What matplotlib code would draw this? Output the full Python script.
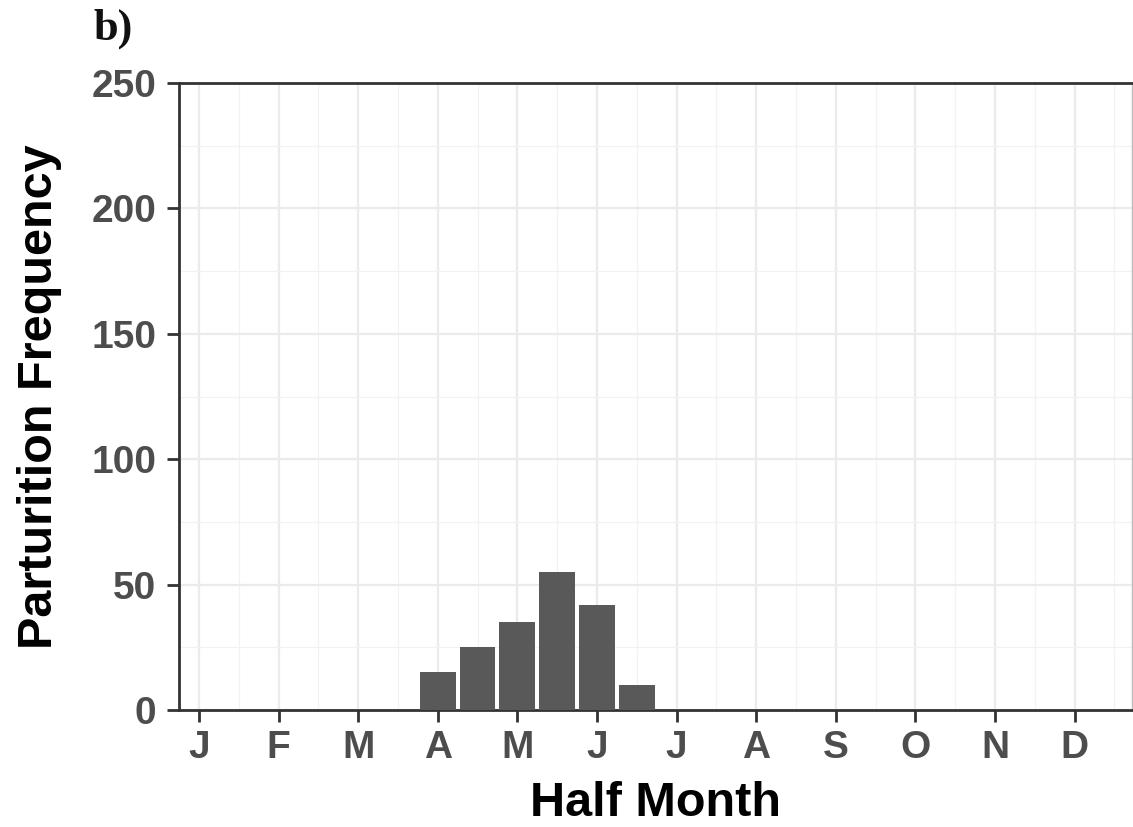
import numpy as np
import matplotlib
matplotlib.use("Agg")
import matplotlib.pyplot as plt

# Half-month bins (position in months, 1 = J)
bin_pos = [4.0, 4.5, 5.0, 5.5, 6.0, 6.5]
counts = [15, 25, 35, 55, 42, 10]
month_labels = ['J', 'F', 'M', 'A', 'M', 'J', 'J', 'A', 'S', 'O', 'N', 'D']

plt.rcParams['font.family'] = ['Liberation Sans', 'DejaVu Sans']

fig = plt.figure(figsize=(11.33, 8.27), dpi=100)
ax = fig.add_axes([179 / 1133, 1 - 710 / 827, (1132 - 179) / 1133, (710 - 83) / 827])

ax.bar(bin_pos, counts, width=0.45, color='#595959', zorder=3)

ax.set_xlim(0.75, 12.72)
ax.set_ylim(0, 250)
ax.set_xticks(np.arange(1, 13))
ax.set_xticklabels(month_labels)
ax.set_xticks(np.arange(1.5, 13, 1), minor=True)
ax.set_yticks([0, 50, 100, 150, 200, 250])
ax.set_yticks([25, 75, 125, 175, 225], minor=True)

ax.grid(which='major', color='#EBEBEB', linewidth=1.6, zorder=0)
ax.grid(which='minor', color='#F2F2F2', linewidth=0.9, zorder=0)
ax.set_axisbelow(True)

for side in ['left', 'bottom', 'top']:
    ax.spines[side].set_color('#333333')
    ax.spines[side].set_linewidth(2)
ax.spines['right'].set_color('#BBBBBB')
ax.spines['right'].set_linewidth(1)

ax.tick_params(which='major', length=8.5, width=2, color='#333333',
               labelsize=28, labelcolor='#4D4D4D')
ax.tick_params(axis='y', pad=8)
ax.tick_params(axis='x', pad=6)
ax.tick_params(which='minor', length=0)
for lab in ax.get_xticklabels() + ax.get_yticklabels():
    lab.set_fontweight('bold')

ax.set_xlabel('Half Month', fontsize=35, fontweight='bold', color='black', labelpad=11)
ax.set_ylabel('Parturition Frequency', fontsize=35, fontweight='bold', color='black', labelpad=21)

fig.text(93 / 1133, 1 - 40 / 827, 'b)', fontsize=32, fontweight='bold',
         family=['Liberation Serif', 'DejaVu Serif'], color='#111111')

fig.savefig('out.png', dpi=100)
